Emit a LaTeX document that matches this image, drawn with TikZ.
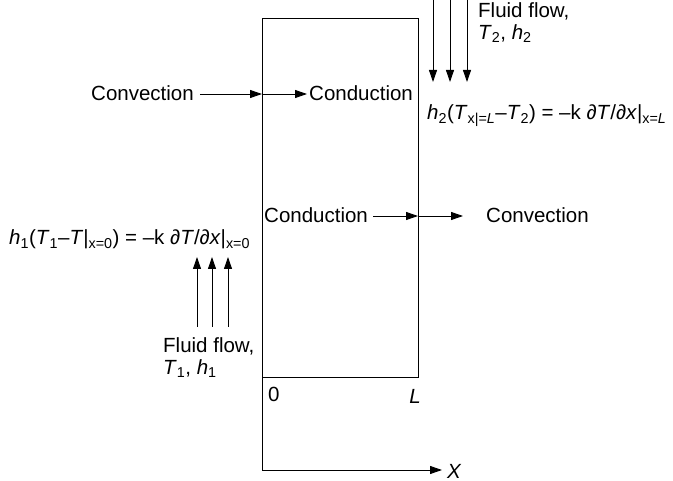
\documentclass[tikz,border=0pt]{standalone}
\usepackage{fontspec}
\setmainfont{Liberation Sans}
\usetikzlibrary{arrows.meta}
\newcommand\sbs[1]{\textsubscript{#1}}
\begin{document}
\begin{tikzpicture}[x=1pt,y=-1pt,
  lbl/.style={inner sep=0pt, font=\fontsize{20.5}{22}\selectfont},
  arr/.style={-{Triangle[length=12pt,width=8pt]}, line width=0.9pt},
  wall/.style={line width=0.9pt}]
\useasboundingbox (0,0) rectangle (673,481);
% wall and axis
\coordinate (tl) at (262,18);
\coordinate (tr) at (418,18);
\coordinate (bl) at (262,377);
\coordinate (br) at (418,377);
\coordinate (ax0) at (262,470);
\coordinate (axE) at (442,470);
\draw[wall] (ax0) -- (tl) -- (tr) -- (br) -- (bl);
\draw[arr] (ax0) -- (axE);
\node[lbl, anchor=west] (X) at (447,471) {\textit{X}};
\node[lbl, anchor=base west] (zero) at (268,402) {0};
\node[lbl, anchor=base] (Lb) at (415,403) {\textit{L}};
% row 1
\coordinate (w1) at (262,94);
\node[lbl, anchor=base west] (convL) at (91,101) {Convection};
\node[lbl, anchor=base west] (condL) at (309,101) {Conduction};
\draw[arr] ([xshift=6pt]convL.east |- w1) -- (w1);
\draw[arr] (w1) -- ([xshift=-2pt]condL.west |- w1);
% row 2
\coordinate (e2) at (418,216);
\node[lbl, anchor=base west] (condR) at (264,223) {Conduction};
\node[lbl, anchor=base west] (convR) at (486,223) {Convection};
\draw[arr] ([xshift=5pt]condR.east |- e2) -- (e2);
\draw[arr] (e2) -- ([xshift=-23pt]convR.west |- e2);
% fluid flow top right
\node[lbl, anchor=north west, align=left] (f2) at (478,2) {Fluid flow,\\\textit{T}\sbs{2}, \textit{h}\sbs{2}};
\foreach \xx in {433,450,467}{
  \coordinate (ds\xx) at (\xx,0);
  \coordinate (de\xx) at (\xx,82);
  \draw[arr] (ds\xx) -- (de\xx);
}
% fluid flow bottom left
\node[lbl, anchor=north west, align=left] (f1) at (163,337) {Fluid flow,\\\textit{T}\sbs{1}, \textit{h}\sbs{1}};
\foreach \xx in {197,212,228}{
  \coordinate (us\xx) at (\xx,327);
  \coordinate (ue\xx) at (\xx,257);
  \draw[arr] (us\xx) -- (ue\xx);
}
% equations
\node[lbl, anchor=base west] (eq2) at (427,120) {\textit{h}\sbs{2}(\textit{T}\sbs{x|=\textit{L}}–\textit{T}\sbs{2}) = –k ∂\textit{T}/∂\textit{x}|\sbs{x=\textit{L}}};
\node[lbl, anchor=base west] (eq1) at (9,245) {\textit{h}\sbs{1}(\textit{T}\sbs{1}–\textit{T}|\sbs{x=0}) = –k ∂\textit{T}/∂\textit{x}|\sbs{x=0}};
\end{tikzpicture}
\end{document}
